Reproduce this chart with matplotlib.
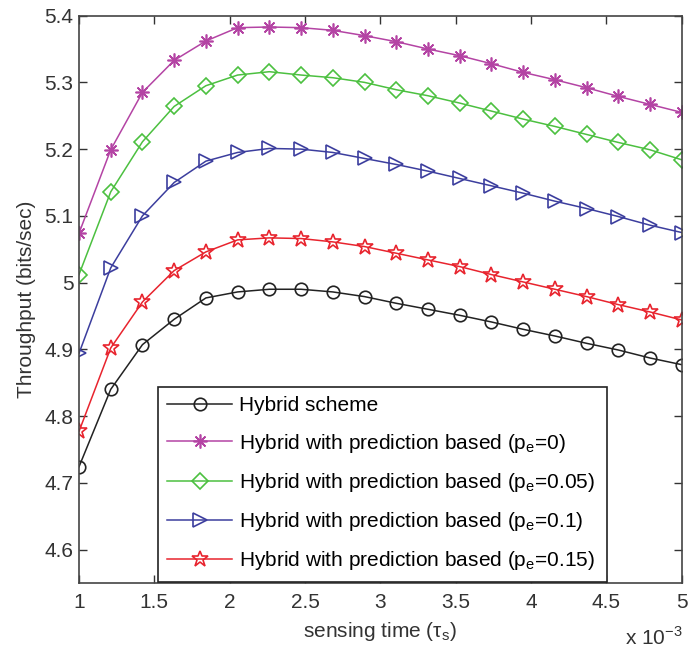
import numpy as np
import matplotlib
matplotlib.use("Agg")
import matplotlib.pyplot as plt

plt.rcParams['font.family'] = ['Liberation Sans', 'DejaVu Sans']
plt.rcParams['mathtext.fontset'] = 'custom'
plt.rcParams['mathtext.rm'] = 'Liberation Sans'

# sensing time in units of 1e-3
tau = np.linspace(1, 5, 20)

hybrid = [4.724, 4.840, 4.907, 4.945, 4.977, 4.986, 4.990, 4.990, 4.986, 4.979,
          4.969, 4.960, 4.951, 4.941, 4.930, 4.920, 4.909, 4.899, 4.887, 4.877]
pe_0 = [5.074, 5.199, 5.285, 5.333, 5.362, 5.382, 5.383, 5.382, 5.378, 5.370,
        5.361, 5.350, 5.340, 5.328, 5.315, 5.304, 5.292, 5.279, 5.267, 5.255]
pe_005 = [5.012, 5.136, 5.211, 5.264, 5.295, 5.311, 5.316, 5.311, 5.307, 5.300,
          5.289, 5.280, 5.269, 5.257, 5.245, 5.234, 5.222, 5.210, 5.199, 5.184]
pe_01 = [4.894, 5.022, 5.100, 5.150, 5.182, 5.195, 5.201, 5.200, 5.195, 5.186,
         5.177, 5.167, 5.156, 5.145, 5.134, 5.122, 5.111, 5.099, 5.086, 5.075]
pe_015 = [4.777, 4.902, 4.971, 5.018, 5.046, 5.064, 5.067, 5.066, 5.061, 5.054,
          5.044, 5.034, 5.024, 5.012, 5.001, 4.990, 4.979, 4.967, 4.956, 4.944]

labels = ['Hybrid scheme',
          r'Hybrid with prediction based (p$_\mathregular{e}$=0)',
          r'Hybrid with prediction based (p$_\mathregular{e}$=0.05)',
          r'Hybrid with prediction based (p$_\mathregular{e}$=0.1)',
          r'Hybrid with prediction based (p$_\mathregular{e}$=0.15)']
colors = ['#222222', '#b444a4', '#4cc040', '#3c3e9e', '#e8242e']
markers = ['o', (8, 2, 0), 'D', '>', '*']
msizes = [9, 10, 8, 10, 12]

fig = plt.figure(figsize=(6.9, 6.52), dpi=100)
ax = fig.add_axes([0.1145, 0.106, 0.8735, 0.87])

series = [hybrid, pe_0, pe_005, pe_01, pe_015]
for ys, lab, c, m, ms in zip(series, labels, colors, markers, msizes):
    ax.plot(tau, ys, color=c, marker=m, markersize=ms, markerfacecolor='none',
            markeredgecolor=c, markeredgewidth=1.2, linewidth=1.1, label=lab)

ax.set_xlim(1, 5)
ax.set_ylim(4.55, 5.4)
ax.set_xticks([1, 1.5, 2, 2.5, 3, 3.5, 4, 4.5, 5])
ax.set_xticklabels(['1', '1.5', '2', '2.5', '3', '3.5', '4', '4.5', '5'])
ax.set_yticks([4.6, 4.7, 4.8, 4.9, 5.0, 5.1, 5.2, 5.3, 5.4])
ax.set_yticklabels(['4.6', '4.7', '4.8', '4.9', '5', '5.1', '5.2', '5.3', '5.4'])
ax.tick_params(direction='in', top=True, right=True, labelsize=15, length=6,
               width=1, colors='#333333')
ax.tick_params(axis='y', pad=4)
ax.tick_params(axis='x', pad=7)
for sp in ax.spines.values():
    sp.set_color('#444444')
    sp.set_linewidth(1.2)

ax.set_xlabel(r'sensing time ($\mathregular{\tau_s}$)', fontsize=15, color='#333333', labelpad=6)
ax.set_ylabel('Throughput (bits/sec)', fontsize=15, color='#333333', labelpad=6)
fig.text(0.99, 0.022, r'x 10$^{\mathregular{-3}}$', ha='right', va='center',
         fontsize=15, color='#333333')

leg = ax.legend(loc='lower left', bbox_to_anchor=(0.131, 0.002, 0.745, 0.347),
                mode='expand', fontsize=15, handlelength=3.1, labelspacing=0.78,
                borderaxespad=0, fancybox=False, framealpha=1, edgecolor='#222222',
                borderpad=0.45, handletextpad=0.35)
leg.get_frame().set_linewidth(1.2)

fig.savefig('out.png', dpi=100)
